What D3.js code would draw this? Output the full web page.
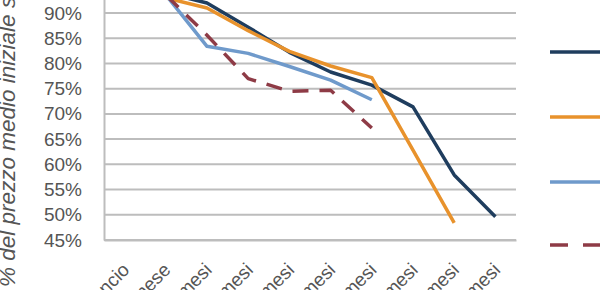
<!DOCTYPE html>
<html><head><meta charset="utf-8">
<script src="https://cdn.jsdelivr.net/npm/d3@7"></script>
<style>html,body{margin:0;padding:0;background:#fff;overflow:hidden}svg{display:block}</style>
</head><body>
<script>
const categories = ["lancio","1 mese","2 mesi","3 mesi","4 mesi","5 mesi","6 mesi","7 mesi","8 mesi","9 mesi"];
const seriesNames = ["Serie 1","Serie 2","Serie 3","Serie 4"];
const serie1 = [100, 94, 92, 87.2, 82.2, 78.3, 75.7, 71.4, 57.9, 49.6];
const serie2 = [100, 93, 91, 86.5, 82.4, 79.5, 77.2, 62.8, 48.4, null];
const serie3 = [100, 93.6, 83.4, 82, 79.4, 76.7, 72.8, null, null, null];
const serie4 = [100, 93.6, 85.6, 77, 74.5, 74.7, 67.2, null, null, null];
const yTicks = [45, 50, 55, 60, 65, 70, 75, 80, 85, 90];
const yTitle = "% del prezzo medio iniziale sul mercato";

const W = 600, H = 290;
const colors = ["#1f3d5e", "#e8922c", "#6f9acb", "#8e3b46"];
const dashes = [null, null, null, "16,11"];
const allSeries = [serie1, serie2, serie3, serie4];

const svg = d3.select("body").append("svg").attr("width", W).attr("height", H);
const font = "'Liberation Sans', Arial, sans-serif";

const x = d3.scaleBand().domain(categories).range([104, 516]);
const y = d3.scaleLinear().domain([45, 100]).range([240, 240 - 55 * 5.044]);

// gridlines
svg.append("g").selectAll("line").data(yTicks).join("line")
  .attr("x1", 104).attr("x2", 516)
  .attr("y1", d => y(d)).attr("y2", d => y(d))
  .attr("stroke", "#bdbdbd").attr("stroke-width", 2);

// left axis
const yAxis = d3.axisLeft(y).tickValues(yTicks).tickSize(0).tickPadding(22)
  .tickFormat(d => d + "%");
const gy = svg.append("g").attr("transform", "translate(104,0)").call(yAxis);
gy.select(".domain").attr("stroke", "#bdbdbd").attr("stroke-width", 2);
gy.selectAll("text").attr("font-family", font).attr("font-size", 19).attr("fill", "#555");

// bottom axis
const xAxis = d3.axisBottom(x).tickSize(0).tickFormat(d => d);
const gx = svg.append("g").attr("transform", "translate(0,240)").call(xAxis);
gx.select(".domain").attr("stroke", "#bdbdbd").attr("stroke-width", 2);
gx.selectAll("text")
  .attr("font-family", font).attr("font-size", 19).attr("fill", "#555")
  .attr("text-anchor", "end").attr("y", 0).attr("dy", 0)
  .attr("transform", "translate(6,31) rotate(-45)");

// lines
const line = d3.line()
  .defined(d => d.v != null)
  .x(d => x(d.c) + x.bandwidth() / 2)
  .y(d => y(d.v));
allSeries.forEach((s, i) => {
  svg.append("path")
    .datum(s.map((v, j) => ({ c: categories[j], v })))
    .attr("d", line).attr("fill", "none")
    .attr("stroke", colors[i]).attr("stroke-width", 3.5)
    .attr("stroke-linejoin", "round")
    .attr("stroke-dasharray", dashes[i]);
});

// legend samples
const legY = [52, 117, 182, 245];
svg.append("g").selectAll("line").data(seriesNames).join("line")
  .attr("x1", 550).attr("x2", 605)
  .attr("y1", (d, i) => legY[i]).attr("y2", (d, i) => legY[i])
  .attr("stroke", (d, i) => colors[i]).attr("stroke-width", 3.5)
  .attr("stroke-dasharray", (d, i) => dashes[i] ? "18,15" : null);

// y title
svg.append("text")
  .attr("transform", "translate(15,287) rotate(-90)")
  .attr("font-family", font).attr("font-size", 22.5).attr("font-style", "italic")
  .attr("fill", "#555").text(yTitle);
</script>
</body></html>
